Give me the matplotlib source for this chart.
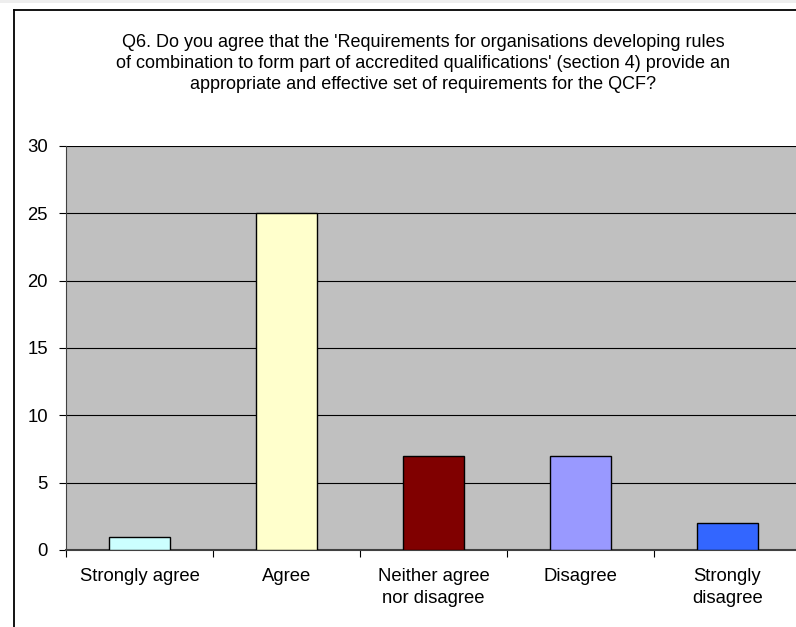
import numpy as np
import matplotlib.pyplot as plt
from matplotlib.patches import Rectangle
from matplotlib.lines import Line2D

categories = ["Strongly agree", "Agree", "Neither agree\nnor disagree", "Disagree", "Strongly\ndisagree"]
counts = [1, 25, 7, 7, 2]
colors = ["#CCFFFF", "#FFFFCC", "#800000", "#9999FF", "#3366FF"]
title = ("Q6. Do you agree that the 'Requirements for organisations developing rules\n"
         "of combination to form part of accredited qualifications' (section 4) provide an\n"
         "appropriate and effective set of requirements for the QCF?")

plt.rcParams['font.family'] = ['Liberation Sans', 'DejaVu Sans']

W, H = 796, 627
fig = plt.figure(figsize=(W / 100, H / 100), dpi=100)

# outer chart frame (left + top visible, rest cut off)
fig.patches.append(Rectangle((0, 1 - 3 / H), 1, 3 / H, transform=fig.transFigure,
                             facecolor="#EEEEEE", edgecolor="none"))
fig.lines.append(Line2D([14 / W, 14 / W], [0, 1 - 10 / H], transform=fig.transFigure,
                        color="black", lw=1.3))
fig.lines.append(Line2D([14 / W, 1], [1 - 10 / H, 1 - 10 / H], transform=fig.transFigure,
                        color="black", lw=1.3))

left, right, top, bottom = 66, 801, 146, 550
ax = fig.add_axes([left / W, 1 - bottom / H, (right - left) / W, (bottom - top) / H])
ax.set_facecolor("#C0C0C0")

x = np.arange(len(categories))
ax.bar(x, counts, width=0.41, color=colors, edgecolor="black", linewidth=1, zorder=3)

ax.set_xlim(-0.5, len(categories) - 0.5)
ax.set_ylim(0, 30)
ax.set_yticks(range(0, 31, 5))
ax.yaxis.grid(True, color="black", linewidth=0.8, zorder=1)
ax.set_axisbelow(True)

ax.set_xticks(x)
ax.set_xticklabels(categories, fontsize=13.3, linespacing=1.4)
ax.set_xticks(np.arange(-0.5, len(categories), 1), minor=True)
ax.tick_params(axis="x", which="major", length=0, pad=13)
ax.tick_params(axis="x", which="minor", length=5, direction="out", width=0.8)
ax.tick_params(axis="y", length=5, direction="out", width=0.8, labelsize=13.3, pad=8)

for s in ["top", "right"]:
    ax.spines[s].set_visible(False)
ax.spines["left"].set_color("#404040")
ax.spines["bottom"].set_color("#404040")
ax.spines["bottom"].set_linewidth(1.5)

fig.text(423 / W, 1 - 63.5 / H, title, ha="center", va="center", fontsize=13, linespacing=1.3)

fig.savefig("out.png", dpi=100)
